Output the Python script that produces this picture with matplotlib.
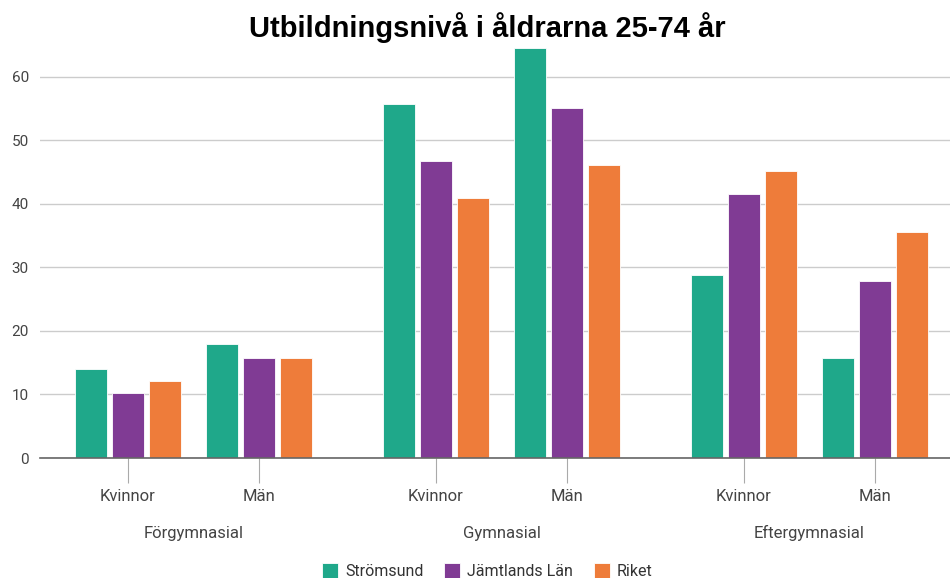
import matplotlib.pyplot as plt
import numpy as np

groups = ["Förgymnasial", "Gymnasial", "Eftergymnasial"]
subcats = ["Kvinnor", "Män"]
series = ["Strömsund", "Jämtlands Län", "Riket"]
stromsund = [14.0, 18.0, 55.7, 64.6, 28.8, 15.7]
jamtland = [10.3, 15.7, 46.8, 55.1, 41.6, 27.9]
riket = [12.1, 15.7, 40.9, 46.1, 45.2, 35.6]
colors = ["#1fa88a", "#803b94", "#ee7c3a"]

plt.rcParams["font.family"] = ["Roboto", "DejaVu Sans"]

fig = plt.figure(figsize=(9.5, 5.78), dpi=100)
ax = fig.add_axes([0.042, 0.2076, 0.958, 0.7254])

# category centres: 131 units between sub-categories, 308 between groups
centers = []
for g in range(len(groups)):
    for s in range(len(subcats)):
        centers.append(128 + g * 308 + s * 131)
centers = np.array(centers)

step, width = 37, 32
for i, (name, vals) in enumerate(zip(series, [stromsund, jamtland, riket])):
    ax.bar(centers + (i - 1) * step, vals, width=width, color=colors[i],
           edgecolor="white", linewidth=0.6, label=name, zorder=3)

ax.set_xlim(40, 950)
ax.set_ylim(0, 66)
ax.set_yticks([0, 10, 20, 30, 40, 50, 60])
ax.grid(axis="y", color="#cccccc", linewidth=1, zorder=0)
for s in ["top", "right", "left"]:
    ax.spines[s].set_visible(False)
ax.spines["bottom"].set_color("#666666")
ax.spines["bottom"].set_linewidth(1.2)
ax.spines["bottom"].set_zorder(4)
ax.tick_params(axis="y", length=0, labelsize=11, labelcolor="#444444", pad=8)
ax.set_xticks(centers)
ax.set_xticklabels(subcats * len(groups))
ax.tick_params(axis="x", length=18, color="#aaaaaa", labelsize=12,
               labelcolor="#444444", pad=4)

for g, name in enumerate(groups):
    xc = (centers[2 * g] + centers[2 * g + 1]) / 2
    ax.text(xc, -0.179, name, transform=ax.get_xaxis_transform(),
            ha="center", va="center", fontsize=12, color="#444444")

fig.suptitle("Utbildningsnivå i åldrarna 25-74 år", x=0.513, y=0.952, va="center",
             fontsize=21, fontweight="bold", family="Liberation Sans")

fig.legend(loc="center", bbox_to_anchor=(0.513, 0.012), ncol=3, frameon=False,
           fontsize=11.5, handlelength=1.0, handleheight=1.0, handletextpad=0.45,
           columnspacing=1.3, labelcolor="#333333")

fig.savefig("out.png", dpi=100)
